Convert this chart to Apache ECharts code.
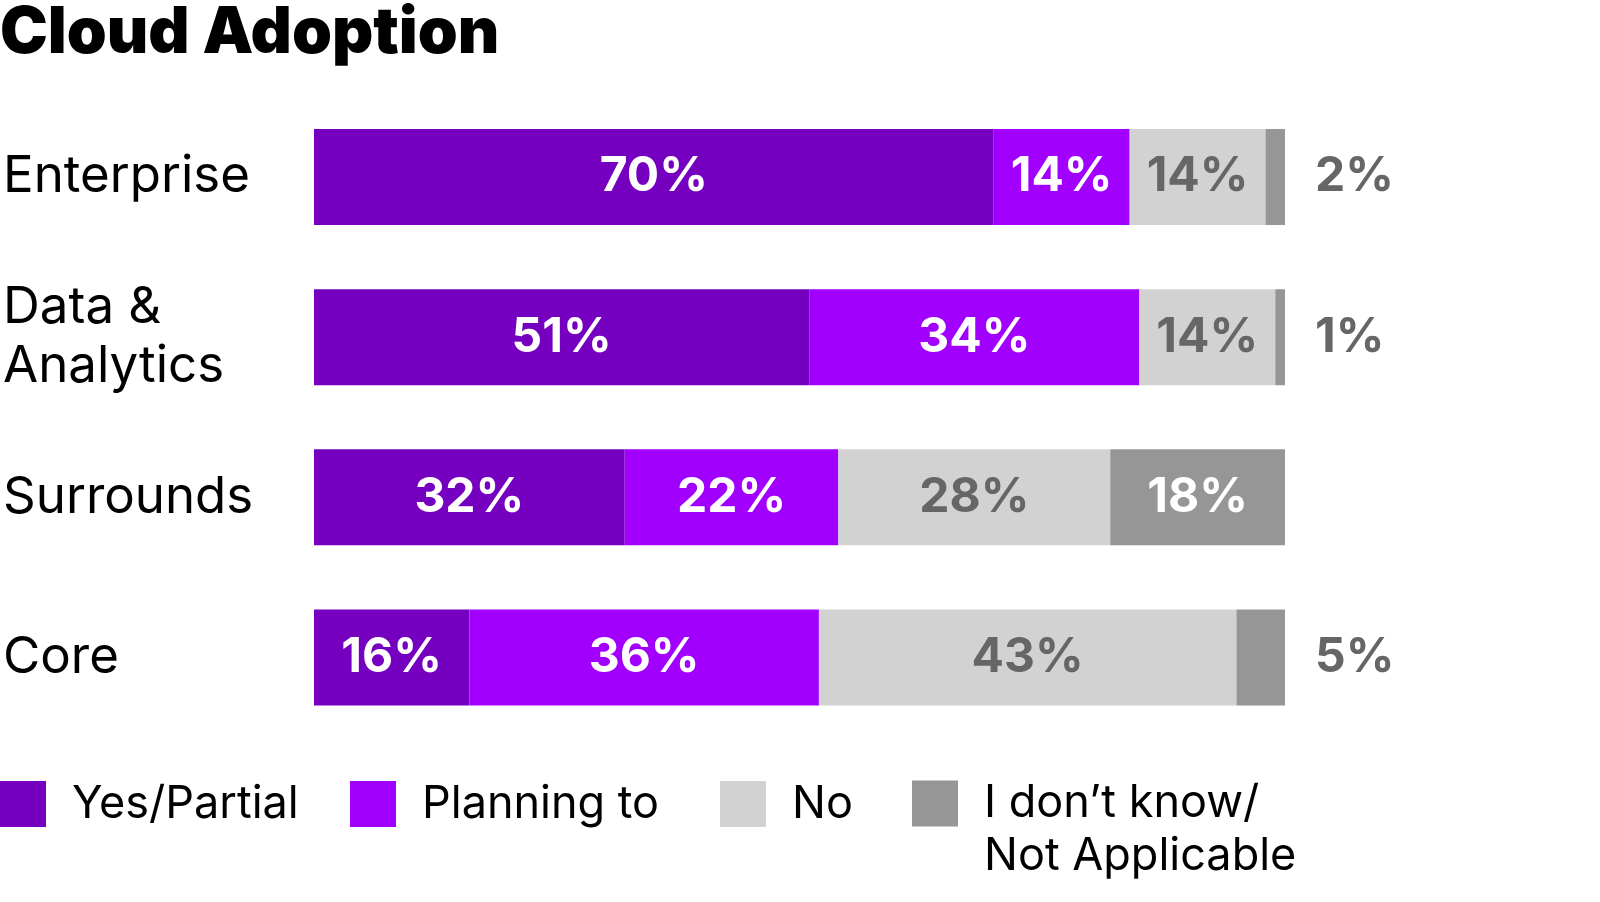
<!DOCTYPE html>
<html>
<head>
<meta charset="utf-8">
<script src="https://cdn.jsdelivr.net/npm/echarts@6/dist/echarts.min.js"></script>
<style>
html,body{margin:0;padding:0;background:#fff;}
#c{width:1600px;height:902px;}
</style>
</head>
<body>
<div id="c"></div>
<script>
const categories = ['Enterprise', 'Data &\nAnalytics', 'Surrounds', 'Core'];
const seriesNames = ['Yes/Partial', 'Planning to', 'No', 'I don\u2019t know/ Not Applicable'];
const yesPartial = [70, 51, 32, 16];
const planningTo = [14, 34, 22, 36];
const no = [14, 14, 28, 43];
const dontKnow = [2, 1, 18, 5];

const colors = ['#7500C0', '#A100FF', '#D2D2D2', '#969696'];
const labelColors = ['#ffffff', '#ffffff', '#666666', '#ffffff'];
const FONT = 'Inter';

const chart = echarts.init(document.getElementById('c'), null, {renderer: 'canvas'});

function makeData(vals, idx) {
  return vals.map(v => {
    if (idx === 3 && v < 10) {
      return {value: v, label: {position: 'right', distance: 30, color: '#666666'}};
    }
    return {value: v};
  });
}

const allVals = [yesPartial, planningTo, no, dontKnow];
const series = allVals.map((vals, i) => ({
  name: seriesNames[i],
  type: 'bar',
  stack: 'total',
  barWidth: 96,
  data: makeData(vals, i),
  itemStyle: {color: colors[i]},
  emphasis: {disabled: true},
  label: {
    show: true,
    position: 'inside',
    formatter: '{c}%',
    color: labelColors[i],
    fontFamily: FONT,
    fontWeight: 'bold',
    fontSize: 48
  }
}));

const legendLefts = [0, 350, 720, 912];
const legends = seriesNames.map((n, i) => ({
  data: [n],
  left: legendLefts[i],
  top: i === 3 ? 724 : 781,
  orient: 'horizontal',
  itemWidth: 46,
  itemHeight: 46,
  itemGap: 0,
  itemStyle: {borderWidth: 0},
  icon: 'rect',
  selectedMode: false,
  padding: 0,
  textStyle: i === 3 ? {
    fontFamily: FONT, fontSize: 45, color: '#000', lineHeight: 53,
    padding: [0, 0, 0, 21]
  } : {fontFamily: FONT, fontSize: 45, color: '#000', padding: [0, 0, 0, 21]},
  formatter: i === 3 ? (name => ' \n' + name.replace('/ ', '/\n')) : undefined
}));

chart.setOption({
  backgroundColor: '#ffffff',
  animation: false,
  title: {
    text: 'Cloud Adoption',
    left: 0,
    top: 2,
    padding: 0,
    textStyle: {fontFamily: FONT, fontWeight: 900, fontSize: 64, color: '#000'}
  },
  legend: legends,
  grid: {left: 312, right: 315, top: 96.9, bottom: 164.4, containLabel: false},
  xAxis: {
    type: 'value', min: 0, max: 100, show: false
  },
  yAxis: {
    type: 'category',
    inverse: true,
    data: categories,
    axisLine: {show: false},
    axisTick: {show: false},
    splitLine: {show: false},
    axisLabel: {
      align: 'left',
      margin: 311,
      fontFamily: FONT,
      fontSize: 51,
      lineHeight: 59,
      color: '#000'
    }
  },
  series: series
});
</script>
</body>
</html>
